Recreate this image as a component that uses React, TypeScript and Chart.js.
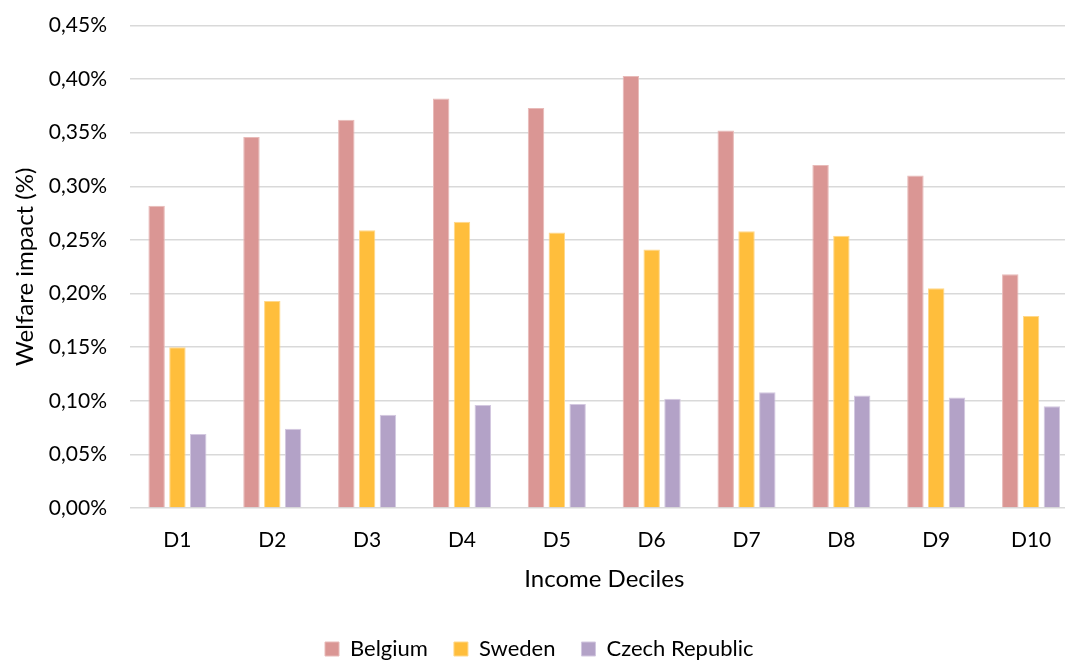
import React, { useEffect, useRef } from "react";
import { Chart, registerables } from "chart.js";

Chart.register(...registerables);

const categories = ["D1", "D2", "D3", "D4", "D5", "D6", "D7", "D8", "D9", "D10"];
const belgium = [0.282, 0.346, 0.362, 0.382, 0.373, 0.403, 0.352, 0.320, 0.310, 0.218];
const sweden = [0.150, 0.193, 0.259, 0.267, 0.257, 0.241, 0.258, 0.254, 0.205, 0.179];
const czech = [0.069, 0.074, 0.087, 0.096, 0.097, 0.102, 0.108, 0.105, 0.103, 0.095];
const seriesNames = ["Belgium", "Sweden", "Czech Republic"];
const yTicks = [0, 0.05, 0.1, 0.15, 0.2, 0.25, 0.3, 0.35, 0.4, 0.45];

const FONT = "Lato";
const W = 1080;
const H = 670;

export default function App() {
  const ref = useRef<HTMLCanvasElement | null>(null);
  useEffect(() => {
    if (!ref.current) return;
    const chart = new Chart(ref.current, {
      type: "bar",
      data: {
        labels: categories,
        datasets: [
          { label: seriesNames[0], data: belgium, backgroundColor: "#DA9694", borderColor: "#E8BAB8", borderWidth: 1 },
          { label: seriesNames[1], data: sweden, backgroundColor: "#FFBE3C", borderColor: "#FFD88A", borderWidth: 1 },
          { label: seriesNames[2], data: czech, backgroundColor: "#B3A2C7", borderColor: "#D3C8E0", borderWidth: 1 },
        ],
      },
      options: {
        responsive: false,
        animation: false,
        devicePixelRatio: 1,
        datasets: { bar: { categoryPercentage: 0.658, barPercentage: 0.79 } },
        layout: { padding: { top: 0, right: 1.5, left: 0, bottom: 0 } },
        plugins: {
          tooltip: { enabled: false },
          legend: {
            position: "bottom",
            labels: {
              font: { family: FONT, size: 22 },
              color: "#000",
              boxWidth: 14,
              boxHeight: 14,
              padding: 26,
            },
          },
        },
        scales: {
          x: {
            grid: { display: false, drawTicks: false },
            border: { display: false },
            ticks: { font: { family: FONT, size: 21 }, color: "#000", padding: 19.5 },
            title: {
              display: true,
              text: "Income Deciles",
              font: { family: FONT, size: 24 },
              color: "#000",
              padding: { top: 0, bottom: 18.6 },
            },
            afterFit: (s: any) => { s.height = 104; },
          },
          y: {
            min: 0,
            max: 0.45,
            afterBuildTicks: (s: any) => { s.ticks = yTicks.map((v) => ({ value: v })); },
            grid: { color: "#D9D9D9", lineWidth: 1.5, drawTicks: false },
            border: { display: false },
            ticks: {
              font: { family: FONT, size: 21 },
              color: "#000",
              padding: 23,
              callback: (v: any) => Number(v).toFixed(2).replace(".", ",") + "%",
            },
            title: {
              display: true,
              text: "Welfare impact (%)",
              font: { family: FONT, size: 24 },
              color: "#000",
              padding: { top: 11, bottom: 0 },
            },
            afterFit: (s: any) => {
              s.width = 130;
              s.paddingTop = 25.5;
              s.paddingBottom = 0;
            },
          },
        },
      },
    });
    return () => chart.destroy();
  }, []);
  return (
    <div style={{ position: "fixed", left: 0, top: 0, width: W, height: H, background: "#fff" }}>
      <canvas ref={ref} width={W} height={H} style={{ width: W, height: H, display: "block" }} />
    </div>
  );
}
